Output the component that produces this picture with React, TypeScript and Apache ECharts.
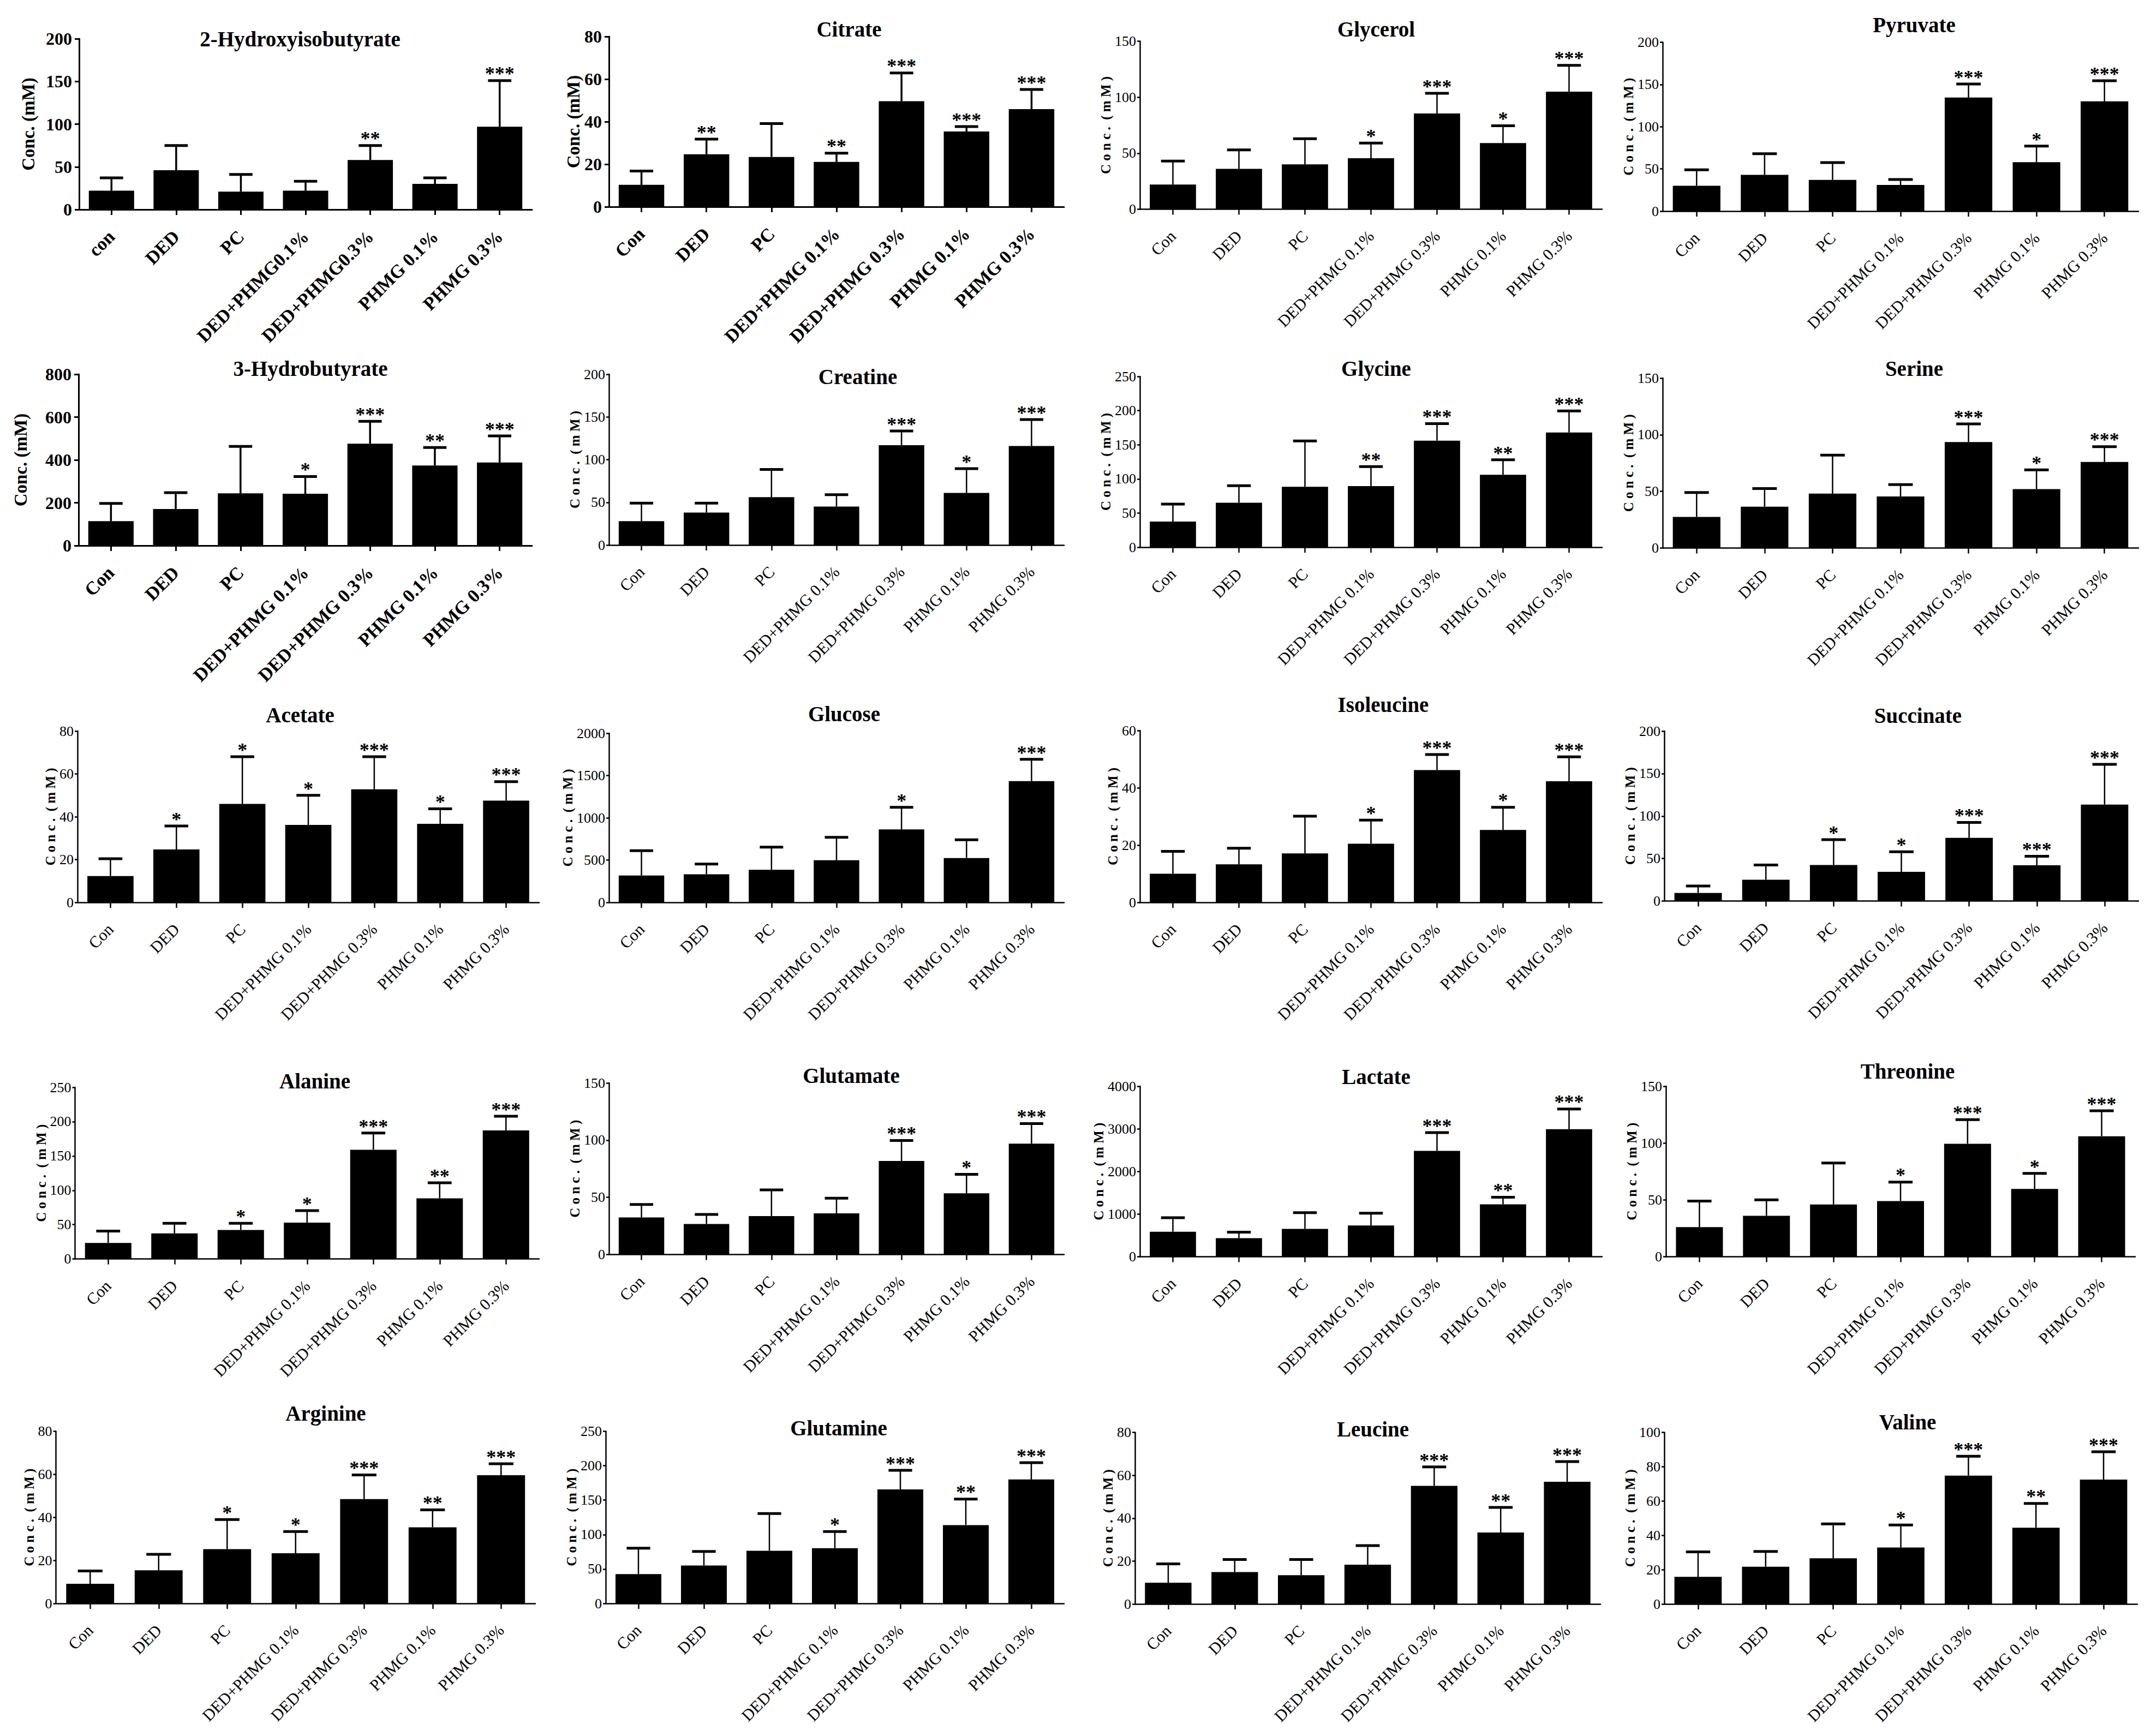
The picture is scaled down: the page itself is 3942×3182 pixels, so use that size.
import React, { useEffect, useRef } from "react";
import * as echarts from "echarts";

// ---------- categories ----------
const groupsFirst = ["con", "DED", "PC", "DED+PHMG0.1%", "DED+PHMG0.3%", "PHMG 0.1%", "PHMG 0.3%"];
const groups = ["Con", "DED", "PC", "DED+PHMG 0.1%", "DED+PHMG 0.3%", "PHMG 0.1%", "PHMG 0.3%"];

// ---------- data: mean, mean+SD, significance ----------
const hibMean = [22, 46, 21, 22, 58, 30, 97];
const hibUpper = [37, 75, 41, 33, 75, 37, 151];
const hibSig = ["", "", "", "", "**", "", "***"];

const citrateMean = [10.3, 24.7, 23.4, 21.1, 49.6, 35.4, 45.9];
const citrateUpper = [16.8, 31.8, 39.1, 25.2, 62.9, 37.7, 55.1];
const citrateSig = ["", "**", "", "**", "***", "***", "***"];

const glycerolMean = [22, 36, 40, 45.5, 85.5, 59, 105];
const glycerolUpper = [43, 53, 63, 59, 103.5, 74.5, 128.5];
const glycerolSig = ["", "", "", "*", "***", "*", "***"];

const pyruvateMean = [30, 43, 37, 31, 134.5, 58, 130];
const pyruvateUpper = [49, 68, 57.5, 37.5, 150.5, 77, 154.5];
const pyruvateSig = ["", "", "", "", "***", "*", "***"];

const hbMean = [114, 171, 244, 242, 476, 374, 388];
const hbUpper = [197, 247, 463, 322, 580, 458, 512];
const hbSig = ["", "", "", "*", "***", "**", "***"];

const creatineMean = [28, 38, 56, 45, 117, 61, 116];
const creatineUpper = [49, 49, 88.5, 59, 133.5, 89.5, 147];
const creatineSig = ["", "", "", "", "***", "*", "***"];

const glycineMean = [37.5, 65, 88.5, 89.5, 156, 106, 168];
const glycineUpper = [63, 90, 155.5, 118, 181, 128, 199.5];
const glycineSig = ["", "", "", "**", "***", "**", "***"];

const serineMean = [27.5, 36.5, 48, 45.5, 93.5, 52, 76];
const serineUpper = [49, 52.5, 82, 56, 109.5, 69, 89.5];
const serineSig = ["", "", "", "", "***", "*", "***"];

const acetateMean = [12.3, 24.7, 46, 36.2, 52.8, 36.7, 47.5];
const acetateUpper = [20.4, 35.7, 68, 50, 68, 43.7, 56.4];
const acetateSig = ["", "*", "*", "*", "***", "*", "***"];

const glucoseMean = [318, 332, 386, 498, 863, 525, 1434];
const glucoseUpper = [612, 454, 653, 770, 1124, 740, 1692];
const glucoseSig = ["", "", "", "", "*", "", "***"];

const isoleucineMean = [10, 13.3, 17.1, 20.5, 46.2, 25.3, 42.3];
const isoleucineUpper = [17.8, 18.9, 30.1, 28.7, 51.6, 33.2, 50.8];
const isoleucineSig = ["", "", "", "*", "***", "*", "***"];

const succinateMean = [9.5, 25, 42.4, 34.3, 74.3, 42, 113.5];
const succinateUpper = [17.6, 42.4, 72.2, 58, 92.4, 52.7, 160.8];
const succinateSig = ["", "", "*", "*", "***", "***", "***"];

const alanineMean = [23.4, 37.3, 42.2, 52.9, 159, 88.3, 187.3];
const alanineUpper = [40.6, 52, 52, 70.5, 183.4, 111, 207.8];
const alanineSig = ["", "", "*", "*", "***", "**", "***"];

const glutamateMean = [32.5, 26.7, 33.7, 36, 81.8, 53.6, 97];
const glutamateUpper = [43.8, 35.1, 56.5, 49.3, 99.7, 70.1, 114.5];
const glutamateSig = ["", "", "", "", "***", "*", "***"];

const lactateMean = [586, 434, 654, 732, 2484, 1229, 2991];
const lactateUpper = [915, 575, 1035, 1020, 2912, 1396, 3467];
const lactateSig = ["", "", "", "", "***", "**", "***"];

const threonineMean = [26, 36, 46, 49, 99.4, 59.6, 106];
const threonineUpper = [49, 50, 82.4, 65.7, 120.6, 73.3, 128.4];
const threonineSig = ["", "", "", "*", "***", "*", "***"];

const arginineMean = [9.1, 15.4, 25.2, 23.3, 48.5, 35.4, 59.6];
const arginineUpper = [15.1, 22.8, 39, 33.4, 59.7, 43.5, 64.9];
const arginineSig = ["", "", "*", "*", "***", "**", "***"];

const glutamineMean = [42.5, 55, 76.4, 80.2, 165.7, 113.8, 180];
const glutamineUpper = [80.2, 75.5, 130.5, 104.4, 193.4, 151.6, 204.4];
const glutamineSig = ["", "", "", "*", "***", "**", "***"];

const leucineMean = [9.9, 14.9, 13.4, 18.3, 55.1, 33.3, 57];
const leucineUpper = [18.7, 20.7, 20.7, 27.2, 63.9, 45, 66.4];
const leucineSig = ["", "", "", "", "***", "**", "***"];

const valineMean = [15.8, 21.7, 26.6, 32.9, 74.8, 44.4, 72.5];
const valineUpper = [30.4, 30.6, 46.7, 46, 86.1, 58.6, 88.7];
const valineSig = ["", "", "", "*", "***", "**", "***"];

// ---------- panels ----------
const titles = [
  "2-Hydroxyisobutyrate", "Citrate", "Glycerol", "Pyruvate",
  "3-Hydrobutyrate", "Creatine", "Glycine", "Serine",
  "Acetate", "Glucose", "Isoleucine", "Succinate",
  "Alanine", "Glutamate", "Lactate", "Threonine",
  "Arginine", "Glutamine", "Leucine", "Valine",
];
const yMax = [200, 80, 150, 200, 800, 200, 250, 150, 80, 2000, 60, 200, 250, 150, 4000, 150, 80, 250, 80, 100];
const yStep = [50, 20, 50, 50, 200, 50, 50, 50, 20, 500, 20, 50, 50, 50, 1000, 50, 20, 50, 20, 20];
const means = [hibMean, citrateMean, glycerolMean, pyruvateMean, hbMean, creatineMean, glycineMean, serineMean,
  acetateMean, glucoseMean, isoleucineMean, succinateMean, alanineMean, glutamateMean, lactateMean, threonineMean,
  arginineMean, glutamineMean, leucineMean, valineMean];
const uppers = [hibUpper, citrateUpper, glycerolUpper, pyruvateUpper, hbUpper, creatineUpper, glycineUpper, serineUpper,
  acetateUpper, glucoseUpper, isoleucineUpper, succinateUpper, alanineUpper, glutamateUpper, lactateUpper, threonineUpper,
  arginineUpper, glutamineUpper, leucineUpper, valineUpper];
const sigs = [hibSig, citrateSig, glycerolSig, pyruvateSig, hbSig, creatineSig, glycineSig, serineSig,
  acetateSig, glucoseSig, isoleucineSig, succinateSig, alanineSig, glutamateSig, lactateSig, threonineSig,
  arginineSig, glutamineSig, leucineSig, valineSig];
const boldPanels = [0, 1, 4];

// ---------- layout (pixels): axisX, rightX, topY, zeroY, titleX, titleY, yNameDist ----------
const layout = [
  [145, 975, 71, 384, 550, 71, 93],
  [1116, 1950, 67, 379, 1556, 53, 47],
  [2089, 2936, 75.5, 383.5, 2522, 53, 53],
  [3047, 3919, 77.5, 387, 3508, 45, 57],
  [144, 975, 686, 1000, 569, 675, 106],
  [1116, 1950, 686, 999, 1572, 690, 60],
  [2089, 2936, 690, 1003, 2522, 675, 59],
  [3047, 3919, 693, 1004.5, 3508, 675, 53],
  [142, 988, 1340, 1654, 550, 1310, 44],
  [1116, 1950, 1344, 1654, 1547, 1308, 60],
  [2089, 2936, 1339, 1654, 2535, 1291, 43],
  [3050, 3919, 1340, 1651.5, 3515, 1311, 56],
  [137.5, 988, 1993, 2307.6, 577, 1981, 56],
  [1116, 1950, 1985, 2299.6, 1560, 1971, 56],
  [2089, 2936, 1991, 2303.5, 2522, 1973, 72],
  [3053, 3913, 1991, 2303.5, 3496, 1963, 59],
  [102.5, 981, 2623.5, 2939, 597, 2590, 42],
  [1110, 1950, 2623.5, 2939, 1537, 2617, 50],
  [2080, 2933, 2625.5, 2940, 2516, 2619, 47],
  [3050, 3917, 2625.5, 2940, 3496, 2606, 56],
];

const FONT = '"Liberation Serif", "Times New Roman", Times, serif';

function buildOption() {
  const grid: any[] = [];
  const xAxis: any[] = [];
  const yAxis: any[] = [];
  const series: any[] = [];
  const graphic: any[] = [];

  titles.forEach((t, k) => {
    const [ax, rx, ty, zy, tx, tty, nd] = layout[k];
    const bold = boldPanels.includes(k);
    const lw = bold ? 3 : 2.5;
    const cats = k === 0 ? groupsFirst : groups;
    const nameFs = bold ? 33 : 25;
    grid.push({ left: ax, top: ty, width: rx - ax, height: zy - ty, containLabel: false, outerBoundsMode: "none" });
    xAxis.push({
      type: "category",
      gridIndex: k,
      data: cats,
      axisLine: { show: true, onZero: false, lineStyle: { color: "#000", width: lw } },
      axisTick: { show: true, alignWithLabel: true, length: 10, lineStyle: { color: "#000", width: lw } },
      axisLabel: {
        interval: 0, rotate: 45, margin: 44, color: "#000",
        fontFamily: FONT, fontSize: bold ? 34 : 30, fontWeight: bold ? "bold" : "normal",
      },
      splitLine: { show: false },
    });
    yAxis.push({
      type: "value",
      gridIndex: k,
      min: 0,
      max: yMax[k],
      interval: yStep[k],
      name: bold ? "Conc. (mM)" : "C o n c .  ( m M )",
      nameLocation: "middle",
      nameRotate: 90,
      nameGap: nd - nameFs * 0.5,
      nameTextStyle: { color: "#000", fontFamily: FONT, fontSize: nameFs, fontWeight: "bold" },
      axisLine: { show: true, lineStyle: { color: "#000", width: lw } },
      axisTick: { show: true, length: bold ? 8 : 5, lineStyle: { color: "#000", width: lw } },
      axisLabel: {
        margin: bold ? 13 : 7, color: "#000", fontFamily: FONT,
        fontSize: bold ? 32 : 26, fontWeight: bold ? "bold" : "normal",
        formatter: (v: number) => String(v),
      },
      splitLine: { show: false },
    });
    series.push({
      type: "bar",
      xAxisIndex: k,
      yAxisIndex: k,
      data: means[k],
      barCategoryGap: "30%",
      itemStyle: { color: "#000" },
      silent: true,
      z: 2,
    });
    const sig = sigs[k];
    series.push({
      type: "custom",
      xAxisIndex: k,
      yAxisIndex: k,
      data: means[k].map((m, i) => [i, m, uppers[k][i]]),
      encode: { x: 0, y: [1, 2] },
      silent: true,
      z: 3,
      renderItem: (params: any, api: any) => {
        const i = api.value(0);
        const base = api.coord([i, api.value(1)]);
        const top = api.coord([i, api.value(2)]);
        const band = api.size([1, 0])[0];
        const half = band * 0.18;
        const children: any[] = [
          { type: "line", shape: { x1: top[0], y1: base[1], x2: top[0], y2: top[1] }, style: { stroke: "#000", lineWidth: bold ? 3.5 : 2.5 } },
          { type: "line", shape: { x1: top[0] - half, y1: top[1], x2: top[0] + half, y2: top[1] }, style: { stroke: "#000", lineWidth: 5 } },
        ];
        const s = sig[params.dataIndex];
        if (s) {
          const fs = 36;
          children.push({
            type: "text",
            x: top[0],
            y: top[1] - fs * 0.34,
            style: {
              text: s, fill: "#000", fontFamily: FONT, fontSize: fs, fontWeight: "bold",
              align: "center", verticalAlign: "middle", textAlign: "center", textVerticalAlign: "middle",
            },
          });
        }
        return { type: "group", children };
      },
    });
    graphic.push({
      type: "text",
      x: tx,
      y: tty,
      style: {
        text: t, fill: "#000", fontFamily: FONT, fontSize: 39, fontWeight: "bold",
        align: "center", verticalAlign: "middle", textAlign: "center", textVerticalAlign: "middle",
      },
    });
  });

  return {
    animation: false,
    backgroundColor: "#fff",
    grid,
    xAxis,
    yAxis,
    series,
    graphic,
  };
}

export default function App() {
  const ref = useRef<HTMLDivElement>(null);
  useEffect(() => {
    if (!ref.current) return;
    const chart = echarts.init(ref.current, null, { renderer: "svg" });
    chart.setOption(buildOption());
    return () => chart.dispose();
  }, []);
  return (
    <div
      ref={ref}
      style={{ position: "absolute", left: 0, top: 0, width: 3942, height: 3182, background: "#fff" }}
    />
  );
}
